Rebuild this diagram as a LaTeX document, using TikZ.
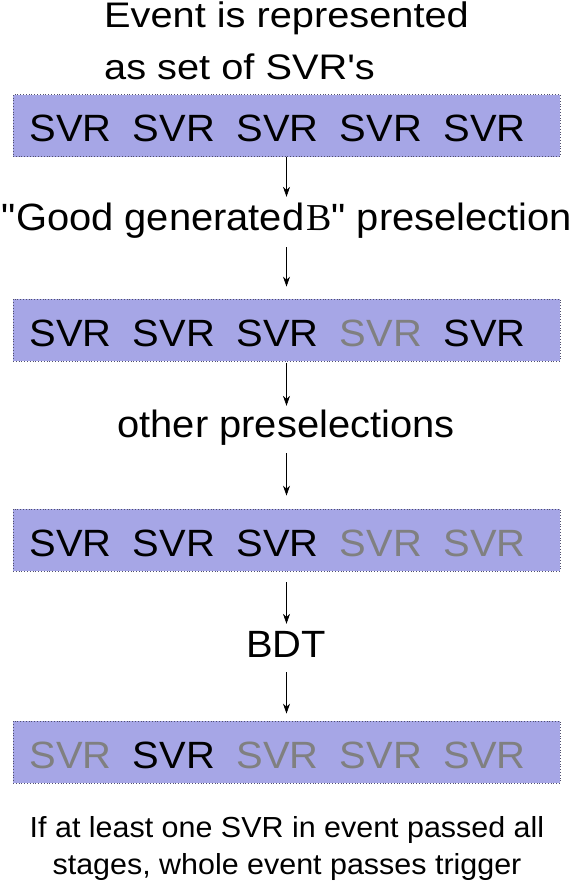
\documentclass[tikz,border=0pt]{standalone}
\usepackage{fontspec}
\usetikzlibrary{arrows.meta}
\newfontfamily\arialf[FakeStretch=1.05]{Liberation Sans}
\newfontfamily\arialw[FakeStretch=1.12]{Liberation Sans}
\newfontfamily\serifB{Liberation Serif}
\definecolor{boxfill}{RGB}{166,166,230}
\definecolor{boxline}{RGB}{80,80,110}
\definecolor{offgrey}{RGB}{128,128,128}
\tikzset{
  svrbox/.style={draw=boxline, dotted, line width=0.8pt, fill=boxfill, minimum width=547pt, minimum height=62pt, inner sep=0pt},
  svr/.style={anchor=base, inner sep=0pt, font=\arialf\fontsize{38}{40}\selectfont},
  on/.style={text=black},
  off/.style={text=offgrey},
  lab/.style={anchor=base, inner sep=0pt, text height=27pt, text depth=8pt, font=\arialf\fontsize{38}{40}\selectfont},
  title/.style={anchor=base west, inner sep=0pt, font=\arialw\fontsize{35.5}{40}\selectfont},
  caption/.style={anchor=base, inner sep=0pt, font=\arialf\fontsize{29}{32}\selectfont},
  arr/.style={-{Stealth[length=10pt,width=7pt]}, line width=0.7pt, black}
}
\begin{document}
\begin{tikzpicture}[x=1pt,y=-1pt]
\useasboundingbox (0,0) rectangle (574,883);
% title
\node[title] (t1) at (104,27.5) {Event is represented};
\node[title] (t2) at (104,80) {as set of SVR's};
% boxes
\node[svrbox] (box1) at (286.5,125.5) {};
\node[svrbox] (box2) at (286.5,330) {};
\node[svrbox] (box3) at (286.5,540) {};
\node[svrbox] (box4) at (286.5,752) {};
% SVRs
\foreach \b/\y/\s in {1/141.7/{on,on,on,on,on},2/346.5/{on,on,on,off,on},3/556.5/{on,on,on,off,off},4/768.5/{off,on,off,off,off}}{
  \foreach \st [count=\i] in \s {
    \node[svr,\st] (b\b s\i) at ({70.5+103.5*(\i-1)},\y) {SVR};
  }
}
% labels
\node[lab] (lab1) at (287,230) {"Good generated\kern2pt{\serifB B}" preselection};
\node[lab] (lab2) at (286,437) {other preselections};
\node[lab] (lab3) at (286,657) {BDT};
% caption
\node[caption] (c1) at (287,837) {If at least one SVR in event passed all};
\node[caption] (c2) at (287,874) {stages, whole event passes trigger};
% arrows
\draw[arr, shorten >=6pt] (box1.south) -- (box1.south |- lab1.north);
\draw[arr, shorten <=9pt, shorten >=12pt] (box1.south |- lab1.south) -- (box2.north);
\draw[arr, shorten <=2pt, shorten >=4pt] (box2.south) -- (box2.south |- lab2.north);
\draw[arr, shorten <=8pt, shorten >=13pt] (box2.south |- lab2.south) -- (box3.north);
\draw[arr, shorten <=11pt, shorten >=6pt] (box3.south) -- (box3.south |- lab3.north);
\draw[arr, shorten <=7pt, shorten >=7pt] (box3.south |- lab3.south) -- (box4.north);
\end{tikzpicture}
\end{document}
